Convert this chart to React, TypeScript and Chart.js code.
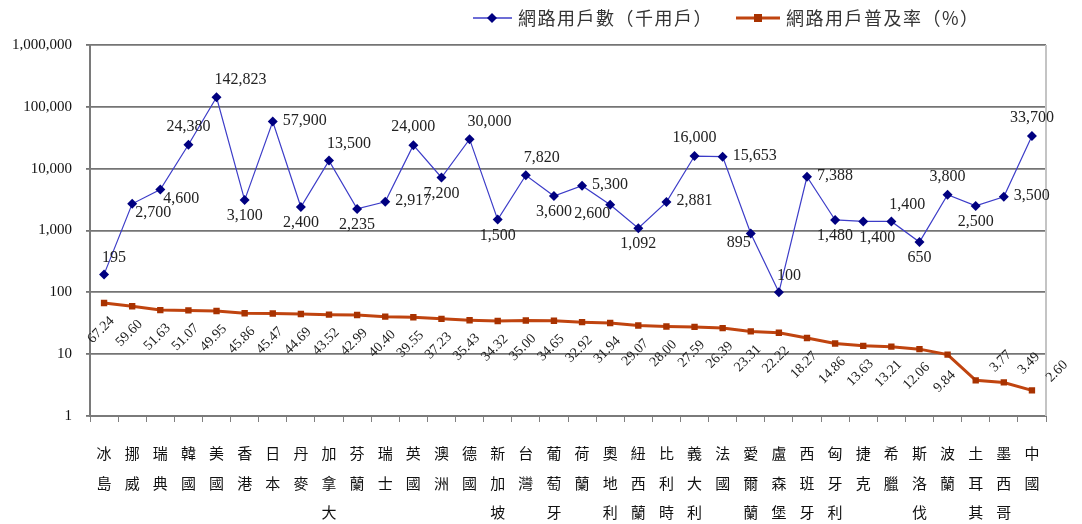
import React, { useEffect, useRef } from 'react';
import { Chart, registerables } from 'chart.js';

Chart.register(...registerables);

// ---------- data ----------
const countries = ['冰島', '挪威', '瑞典', '韓國', '美國', '香港', '日本', '丹麥', '加拿大', '芬蘭', '瑞士', '英國', '澳洲', '德國', '新加坡', '台灣', '葡萄牙', '荷蘭', '奧地利', '紐西蘭', '比利時', '義大利', '法國', '愛爾蘭', '盧森堡', '西班牙', '匈牙利', '捷克', '希臘', '斯洛伐克', '波蘭', '土耳其', '墨西哥', '中國'];
const users = [195, 2700, 4600, 24380, 142823, 3100, 57900, 2400, 13500, 2235, 2917, 24000, 7200, 30000, 1500, 7820, 3600, 5300, 2600, 1092, 2881, 16000, 15653, 895, 100, 7388, 1480, 1400, 1400, 650, 3800, 2500, 3500, 33700];
const rates = [67.24, 59.60, 51.63, 51.07, 49.95, 45.86, 45.47, 44.69, 43.52, 42.99, 40.40, 39.55, 37.23, 35.43, 34.32, 35.00, 34.65, 32.92, 31.94, 29.07, 28.00, 27.59, 26.39, 23.31, 22.22, 18.27, 14.86, 13.63, 13.21, 12.06, 9.84, 3.77, 3.49, 2.60];
const yTicks = [1, 10, 100, 1000, 10000, 100000, 1000000];
const seriesNames = ['網路用戶數（千用戶）', '網路用戶普及率（%）'];

// label placement (style only)
const userLabelPos = ['tr', 'br', 'br', 't', 'tr', 'b', 'r', 'b', 'tr', 'b', 'r', 't', 'b', 'tr', 'b', 'tr', 'b', 'r', 'bl', 'b', 'r', 't', 'r', 'bl', 'tr', 'r', 'b', 'bb', 'tr', 'b', 't', 'b', 'r', 't'];
const rateLabelPos = ['b', 'b', 'b', 'b', 'b', 'b', 'b', 'b', 'b', 'b', 'b', 'b', 'b', 'b', 'b', 'b', 'b', 'b', 'b', 'b', 'b', 'b', 'b', 'b', 'b', 'b', 'b', 'b', 'b', 'b', 'b', 'tr', 'tr', 'tr'];

const BLUE_LINE = '#3c3cc8';
const BLUE_PT = '#000080';
const ORANGE_LINE = '#c0440f';
const ORANGE_PT = '#a83200';
const SERIF = '"Liberation Serif", "Times New Roman", serif';
const CJK = '"Noto Sans CJK TC", "Noto Sans CJK SC", sans-serif';

const posOff: Record<string, [number, number, CanvasTextAlign]> = {
  t: [0, -18, 'center'],
  b: [0, 16, 'center'],
  bb: [-4, 16, 'left'],
  r: [10, -1, 'left'],
  tr: [-2, -17, 'left'],
  br: [3, 9, 'left'],
  bl: [0, 9, 'right'],
};

const fmt = (v: number) => v.toLocaleString('en-US');

const labelPlugin = {
  id: 'valueLabels',
  afterDatasetsDraw(chart: any) {
    const ctx: CanvasRenderingContext2D = chart.ctx;
    ctx.save();
    const m0 = chart.getDatasetMeta(0);
    ctx.font = `16px ${SERIF}`;
    ctx.fillStyle = '#222';
    ctx.textBaseline = 'middle';
    m0.data.forEach((pt: any, i: number) => {
      const [dx, dy, align] = posOff[userLabelPos[i]];
      ctx.textAlign = align;
      ctx.fillText(fmt(users[i]), pt.x + dx, pt.y + dy);
    });
    const m1 = chart.getDatasetMeta(1);
    ctx.font = `14px ${SERIF}`;
    ctx.fillStyle = '#222';
    m1.data.forEach((pt: any, i: number) => {
      const [dx, dy] = rateLabelPos[i] === 'tr' ? [25, -19] : [-3, 27];
      ctx.save();
      ctx.translate(pt.x + dx, pt.y + dy);
      ctx.rotate(-Math.PI / 4);
      ctx.textAlign = 'center';
      ctx.textBaseline = 'middle';
      ctx.fillText(rates[i].toFixed(2), 0, 0);
      ctx.restore();
    });
    ctx.restore();
  },
  beforeDatasetsDraw(chart: any) {
    const { ctx, chartArea } = chart;
    ctx.save();
    ctx.strokeStyle = '#c4c4c4';
    ctx.lineWidth = 2;
    ctx.beginPath();
    ctx.moveTo(chartArea.right, chartArea.top);
    ctx.lineTo(chartArea.right, chartArea.bottom);
    ctx.stroke();
    ctx.restore();
  },
  afterDraw(chart: any) {
    const ctx: any = chart.ctx;
    ctx.save();
    const y = 18;
    ctx.strokeStyle = BLUE_LINE;
    ctx.lineWidth = 1.5;
    ctx.beginPath();
    ctx.moveTo(473, y);
    ctx.lineTo(512, y);
    ctx.stroke();
    ctx.fillStyle = BLUE_PT;
    ctx.beginPath();
    ctx.moveTo(492, y - 5);
    ctx.lineTo(497, y);
    ctx.lineTo(492, y + 5);
    ctx.lineTo(487, y);
    ctx.closePath();
    ctx.fill();
    ctx.font = `18px ${CJK}`;
    ctx.letterSpacing = '1.5px';
    ctx.fillStyle = '#333';
    ctx.textBaseline = 'middle';
    ctx.textAlign = 'left';
    ctx.fillText(seriesNames[0], 518, y);
    ctx.strokeStyle = ORANGE_LINE;
    ctx.lineWidth = 3;
    ctx.beginPath();
    ctx.moveTo(736, y);
    ctx.lineTo(780, y);
    ctx.stroke();
    ctx.fillStyle = ORANGE_PT;
    ctx.fillRect(754, y - 4, 8, 8);
    ctx.fillStyle = '#333';
    ctx.fillText(seriesNames[1], 786, y);
    ctx.restore();
  },
};

export default function App() {
  const ref = useRef<HTMLCanvasElement>(null);
  useEffect(() => {
    document.body.style.margin = '0';
    const chart = new Chart(ref.current as HTMLCanvasElement, {
      type: 'line',
      data: {
        labels: countries.map((c) => Array.from(c)),
        datasets: [
          {
            label: seriesNames[0],
            data: users,
            borderColor: BLUE_LINE,
            borderWidth: 1.2,
            pointStyle: 'rectRot',
            pointRadius: 5,
            pointBackgroundColor: BLUE_PT,
            pointBorderColor: BLUE_PT,
            pointBorderWidth: 0,
            tension: 0,
          },
          {
            label: seriesNames[1],
            data: rates,
            borderColor: ORANGE_LINE,
            borderWidth: 3,
            pointStyle: 'rect',
            pointRadius: 4.5,
            pointBackgroundColor: ORANGE_PT,
            pointBorderColor: ORANGE_PT,
            pointBorderWidth: 0,
            tension: 0,
          },
        ],
      },
      options: {
        animation: false,
        responsive: true,
        maintainAspectRatio: false,
        layout: { padding: { top: 45, right: 36, left: 0, bottom: 0 } },
        plugins: { legend: { display: false }, tooltip: { enabled: false } },
        scales: {
          x: {
            offset: true,
            grid: { display: true, drawOnChartArea: false, drawTicks: true, tickLength: 6, color: '#808080', offset: true },
            border: { color: '#7a7a7a', width: 2 },
            ticks: {
              autoSkip: false,
              maxRotation: 0,
              minRotation: 0,
              padding: 17,
              color: '#111',
              font: { family: CJK, size: 15, lineHeight: 1.95 },
            },
            afterFit: (s: any) => { s.height = 108; },
          },
          y: {
            type: 'logarithmic',
            min: 1,
            max: 1000000,
            afterBuildTicks: (s: any) => { s.ticks = yTicks.map((v) => ({ value: v })); },
            afterFit: (s: any) => { s.width = 90; },
            grid: { color: '#747474', lineWidth: 1.8, tickLength: 4, drawTicks: true },
            border: { color: '#7a7a7a', width: 2 },
            ticks: {
              padding: 14,
              color: '#111',
              font: { family: SERIF, size: 15 },
              callback: (v: any) => fmt(Number(v)),
            },
          },
        },
      },
      plugins: [labelPlugin],
    });
    return () => chart.destroy();
  }, []);
  return (
    <div style={{ width: 1082, height: 524, position: 'relative' }}>
      <canvas ref={ref} />
    </div>
  );
}
